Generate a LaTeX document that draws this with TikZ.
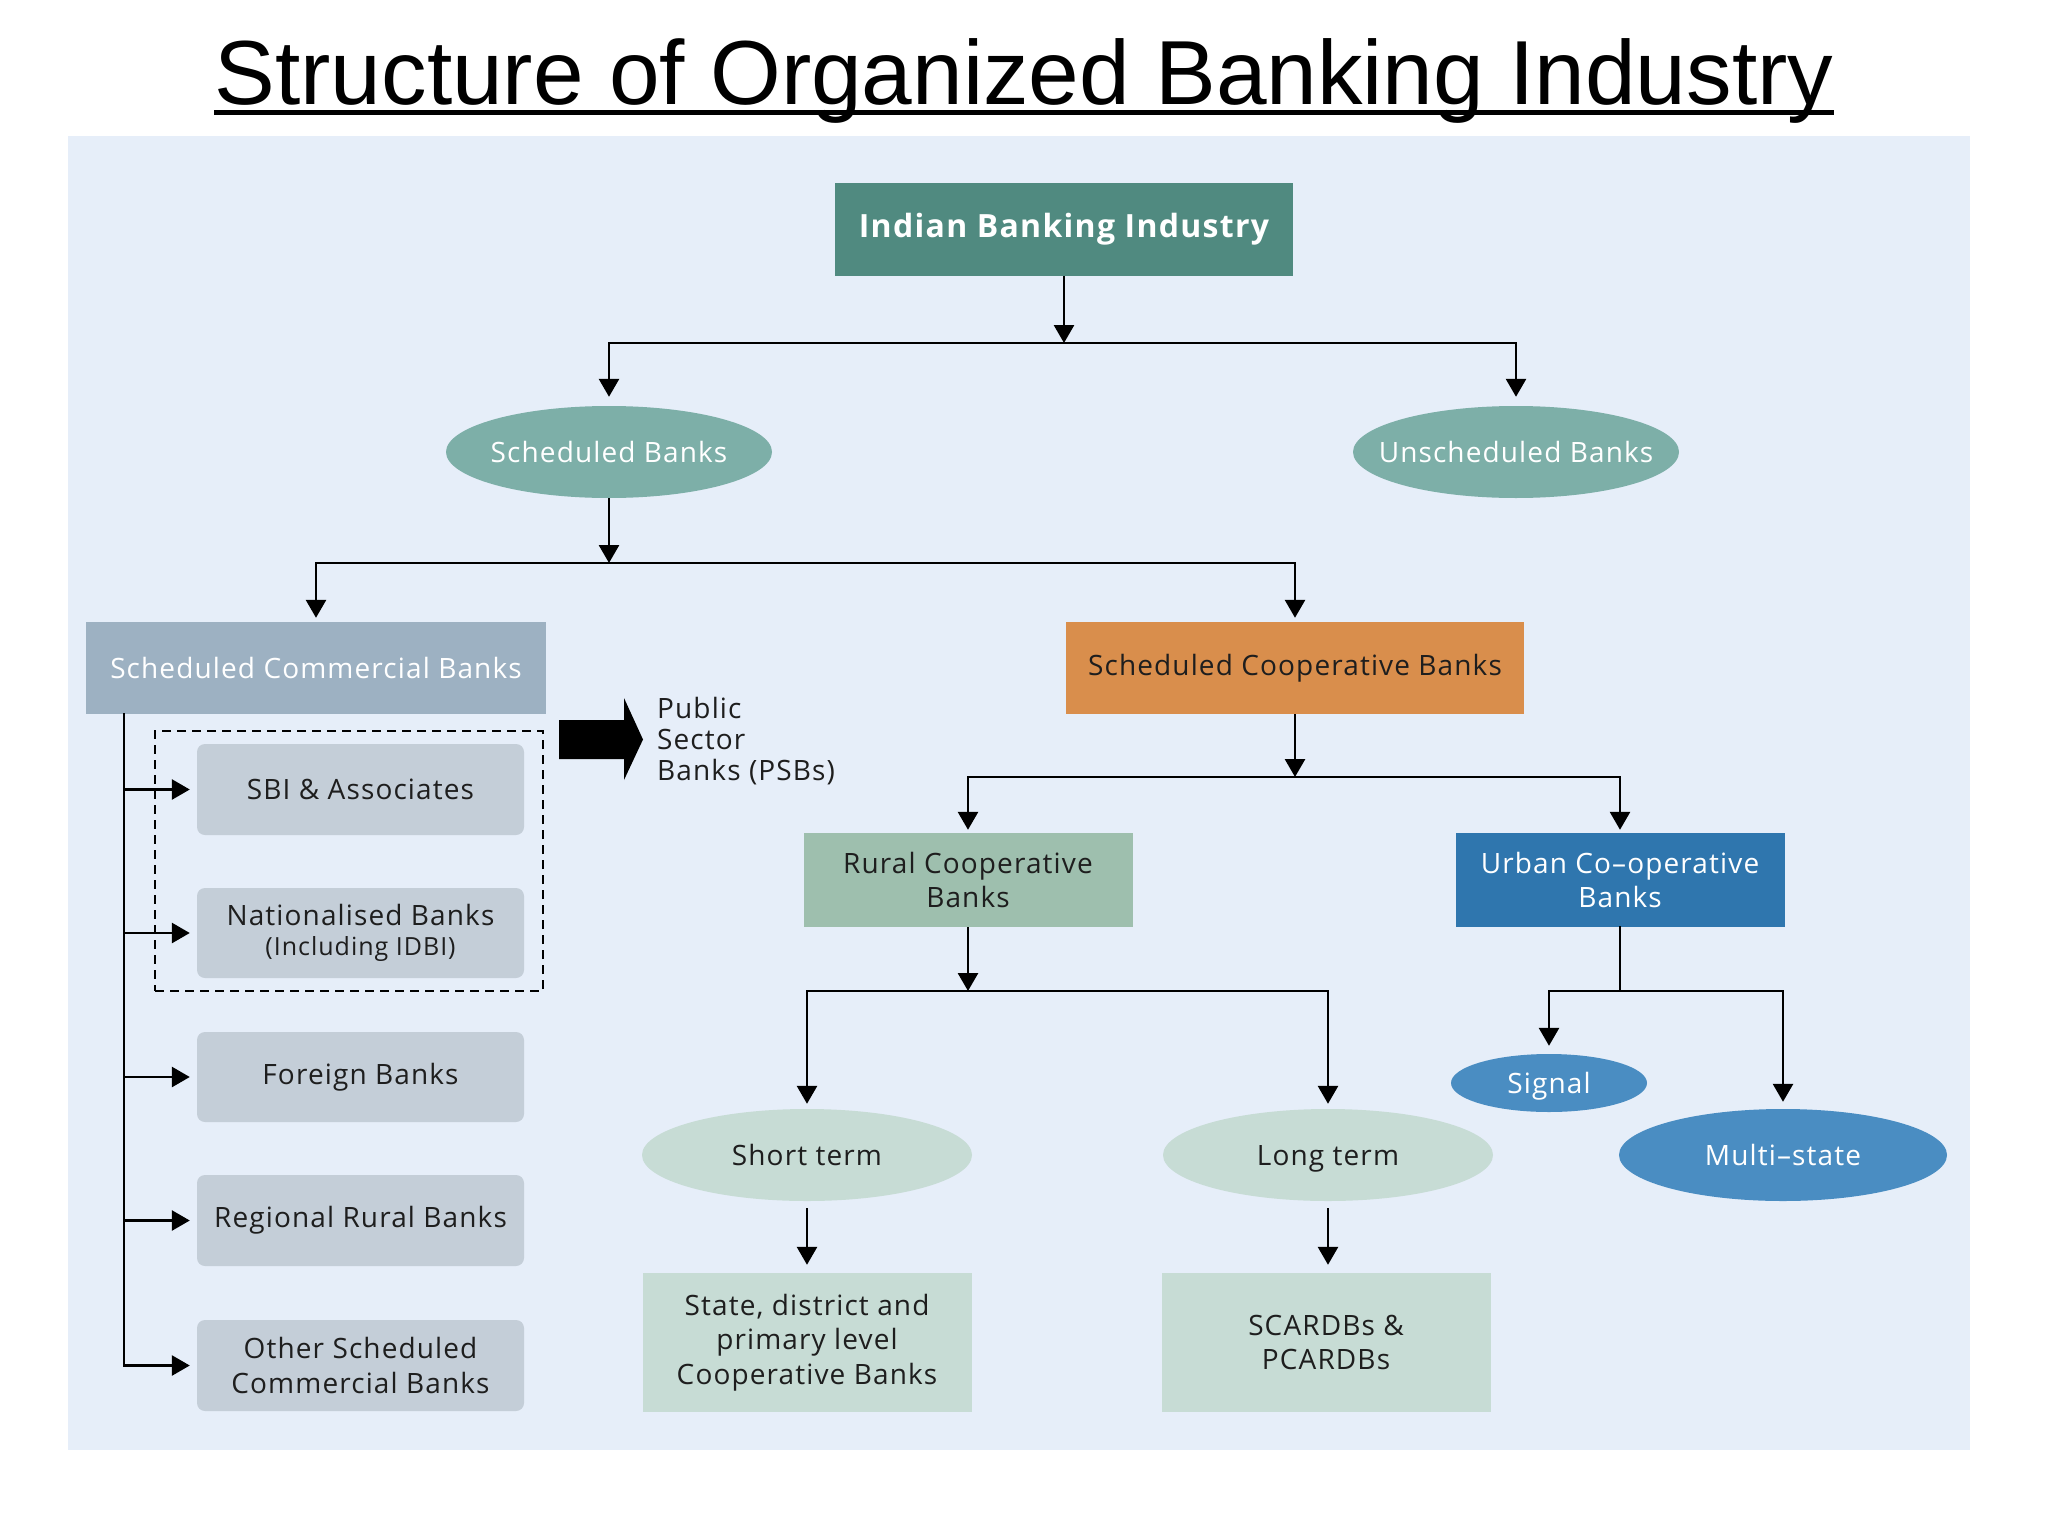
\documentclass[tikz,border=0pt]{standalone}
\usepackage{fontspec}
\setmainfont{Liberation Sans}
\newfontfamily\df{Open Sans}[LetterSpace=4]
\usetikzlibrary{shapes.geometric,arrows.meta}
\definecolor{panel}{HTML}{E6EEF9}
\definecolor{tealdark}{HTML}{508A80}
\definecolor{tealell}{HTML}{7DAFA8}
\definecolor{commbox}{HTML}{9DB1C2}
\definecolor{coopbox}{HTML}{D98E4C}
\definecolor{subbox}{HTML}{C4CED8}
\definecolor{ruralbox}{HTML}{9EBFAE}
\definecolor{urbanbox}{HTML}{2F76AE}
\definecolor{lightgreen}{HTML}{C7DCD5}
\definecolor{blueell}{HTML}{4A8DC2}
\definecolor{darktext}{HTML}{1E1E1E}
\newcommand{\etext}[1]{\makebox[0pt][c]{\smash{#1}\vphantom{A}}}
\tikzset{
  arr/.style={-{Triangle[length=18pt,width=20pt]}, line width=2.8pt},
  ln/.style={line width=2.8pt, line cap=rect},
  txt/.style={font=\df\fontsize{28}{34.5}\selectfont},
  rbox/.style={rectangle, inner sep=0pt, align=center, txt},
  ell/.style={ellipse, inner sep=0pt, align=center, txt},
}
\begin{document}
\begin{tikzpicture}[x=1pt,y=-1pt]
\useasboundingbox (0,0) rectangle (2048,1536);
\fill[white] (0,0) rectangle (2048,1536);
% title
\node[anchor=base, inner sep=0pt, font=\fontsize{91}{110}\selectfont] (title) at (1024,105) {Structure of Organized Banking Industry};
\draw[line width=5pt] (title.base west) ++(0,8) coordinate (ulw) -- (ulw -| title.base east);
% panel
\fill[panel] (68,136) rectangle (1970,1450);

% nodes
\node[rbox, fill=tealdark, text=white, minimum width=458pt, minimum height=93pt, font=\df\bfseries\fontsize{32}{36}\selectfont] (ibi) at (1064,229.5) {Indian Banking Industry};
\node[ell, fill=tealell, text=white, minimum width=326pt, minimum height=92pt] (sb) at (609,452) {\etext{Scheduled Banks}};
\node[ell, fill=tealell, text=white, minimum width=326pt, minimum height=92pt] (ub) at (1516,452) {\etext{Unscheduled Banks}};
\node[rbox, fill=commbox, text=white, minimum width=460pt, minimum height=92pt] (scb) at (316,668) {Scheduled Commercial Banks};
\node[rbox, fill=coopbox, text=darktext, minimum width=458pt, minimum height=92pt] (scoop) at (1295,668) {Scheduled Cooperative Banks};

\node[rbox, fill=subbox, text=darktext, rounded corners=8pt, minimum width=327pt, minimum height=91pt] (sbi) at (360.5,789.5) {SBI \& Associates};
\node[rbox, fill=subbox, text=darktext, rounded corners=8pt, minimum width=327pt, minimum height=90pt] (nat) at (360.5,933) {Nationalised Banks\\[-4pt]{\fontsize{25}{28}\selectfont (Including IDBI)}};
\node[rbox, fill=subbox, text=darktext, rounded corners=8pt, minimum width=327pt, minimum height=90pt] (fb) at (360.5,1077) {Foreign Banks};
\node[rbox, fill=subbox, text=darktext, rounded corners=8pt, minimum width=327pt, minimum height=91pt] (rrb) at (360.5,1220.5) {Regional Rural Banks};
\node[rbox, fill=subbox, text=darktext, rounded corners=8pt, minimum width=327pt, minimum height=91pt] (oth) at (360.5,1365.5) {Other Scheduled\\Commercial Banks};
\node[draw, dashed, dash pattern=on 9pt off 6pt, line width=2.5pt, inner sep=0pt, minimum width=388pt, minimum height=260pt] (psbgrp) at (349,861) {};
\node[anchor=north west, inner sep=0pt, align=left, text=darktext, font=\df\fontsize{28}{31}\selectfont] (psb) at (657,697) {Public\\Sector\\Banks (PSBs)};

\node[rbox, fill=ruralbox, text=darktext, minimum width=329pt, minimum height=94pt] (rcb) at (968,880) {Rural Cooperative\\Banks};
\node[rbox, fill=urbanbox, text=white, minimum width=329pt, minimum height=94pt] (ucb) at (1620,880) {Urban Co–operative\\Banks};
\node[ell, fill=lightgreen, text=darktext, minimum width=330pt, minimum height=92pt] (st) at (807,1155) {\etext{Short term}};
\node[ell, fill=lightgreen, text=darktext, minimum width=330pt, minimum height=92pt] (lt) at (1328,1155) {\etext{Long term}};
\node[ell, fill=blueell, text=white, minimum width=196pt, minimum height=58pt] (sig) at (1549,1083) {\etext{Signal}};
\node[ell, fill=blueell, text=white, minimum width=328pt, minimum height=92pt] (ms) at (1783,1155) {\etext{Multi–state}};
\node[rbox, fill=lightgreen, text=darktext, minimum width=329pt, minimum height=139pt] (sdp) at (807,1342.5) {State, district and\\primary level\\Cooperative Banks};
\node[rbox, fill=lightgreen, text=darktext, minimum width=329pt, minimum height=139pt] (sca) at (1326,1342.5) {SCARDBs \&\\PCARDBs};

% big arrow to PSBs
\fill[black] (559,720) -- (624,720) -- (624,698) -- (643,739.5) -- (624,780) -- (624,759) -- (559,759) -- cycle;

% junctions
\coordinate (j1) at (1064,343);
\coordinate (j2) at (609,563);
\coordinate (j3) at (1295,777);
\coordinate (j4) at (968,991);
\coordinate (j5) at (1620,991);
\coordinate (trunk) at (124,714);

% connectors
\draw[arr] (ibi.south) -- (ibi.south |- j1);
\draw[ln] (sb.north |- j1) -- (ub.north |- j1);
\draw[arr, shorten >=9pt] (sb.north |- j1) -- (sb.north);
\draw[arr, shorten >=9pt] (ub.north |- j1) -- (ub.north);

\draw[arr] (sb.south) -- (sb.south |- j2);
\draw[ln] (scb.north |- j2) -- (scoop.north |- j2);
\draw[arr, shorten >=4pt] (scb.north |- j2) -- (scb.north);
\draw[arr, shorten >=4pt] (scoop.north |- j2) -- (scoop.north);

\draw[ln] (trunk) -- (trunk |- oth.west);
\foreach \n in {sbi,nat,fb,rrb,oth}
  \draw[arr, shorten >=7pt] (trunk |- \n.west) -- (\n.west);

\draw[arr] (scoop.south) -- (scoop.south |- j3);
\draw[ln] (rcb.north |- j3) -- (ucb.north |- j3);
\draw[arr, shorten >=3pt] (rcb.north |- j3) -- (rcb.north);
\draw[arr, shorten >=3pt] (ucb.north |- j3) -- (ucb.north);

\draw[arr] (rcb.south) -- (rcb.south |- j4);
\draw[ln] (st.north |- j4) -- (lt.north |- j4);
\draw[arr, shorten >=5pt] (st.north |- j4) -- (st.north);
\draw[arr, shorten >=5pt] (lt.north |- j4) -- (lt.north);

\draw[ln] (ucb.south) -- (ucb.south |- j5);
\draw[ln] (sig.north |- j5) -- (ms.north |- j5);
\draw[arr, shorten >=8pt] (sig.north |- j5) -- (sig.north);
\draw[arr, shorten >=7pt] (ms.north |- j5) -- (ms.north);

\draw[arr, shorten <=7pt, shorten >=8pt] (st.south) -- (st.south |- sdp.north);
\draw[arr, shorten <=7pt, shorten >=8pt] (lt.south) -- (lt.south |- sca.north);
\end{tikzpicture}
\end{document}
